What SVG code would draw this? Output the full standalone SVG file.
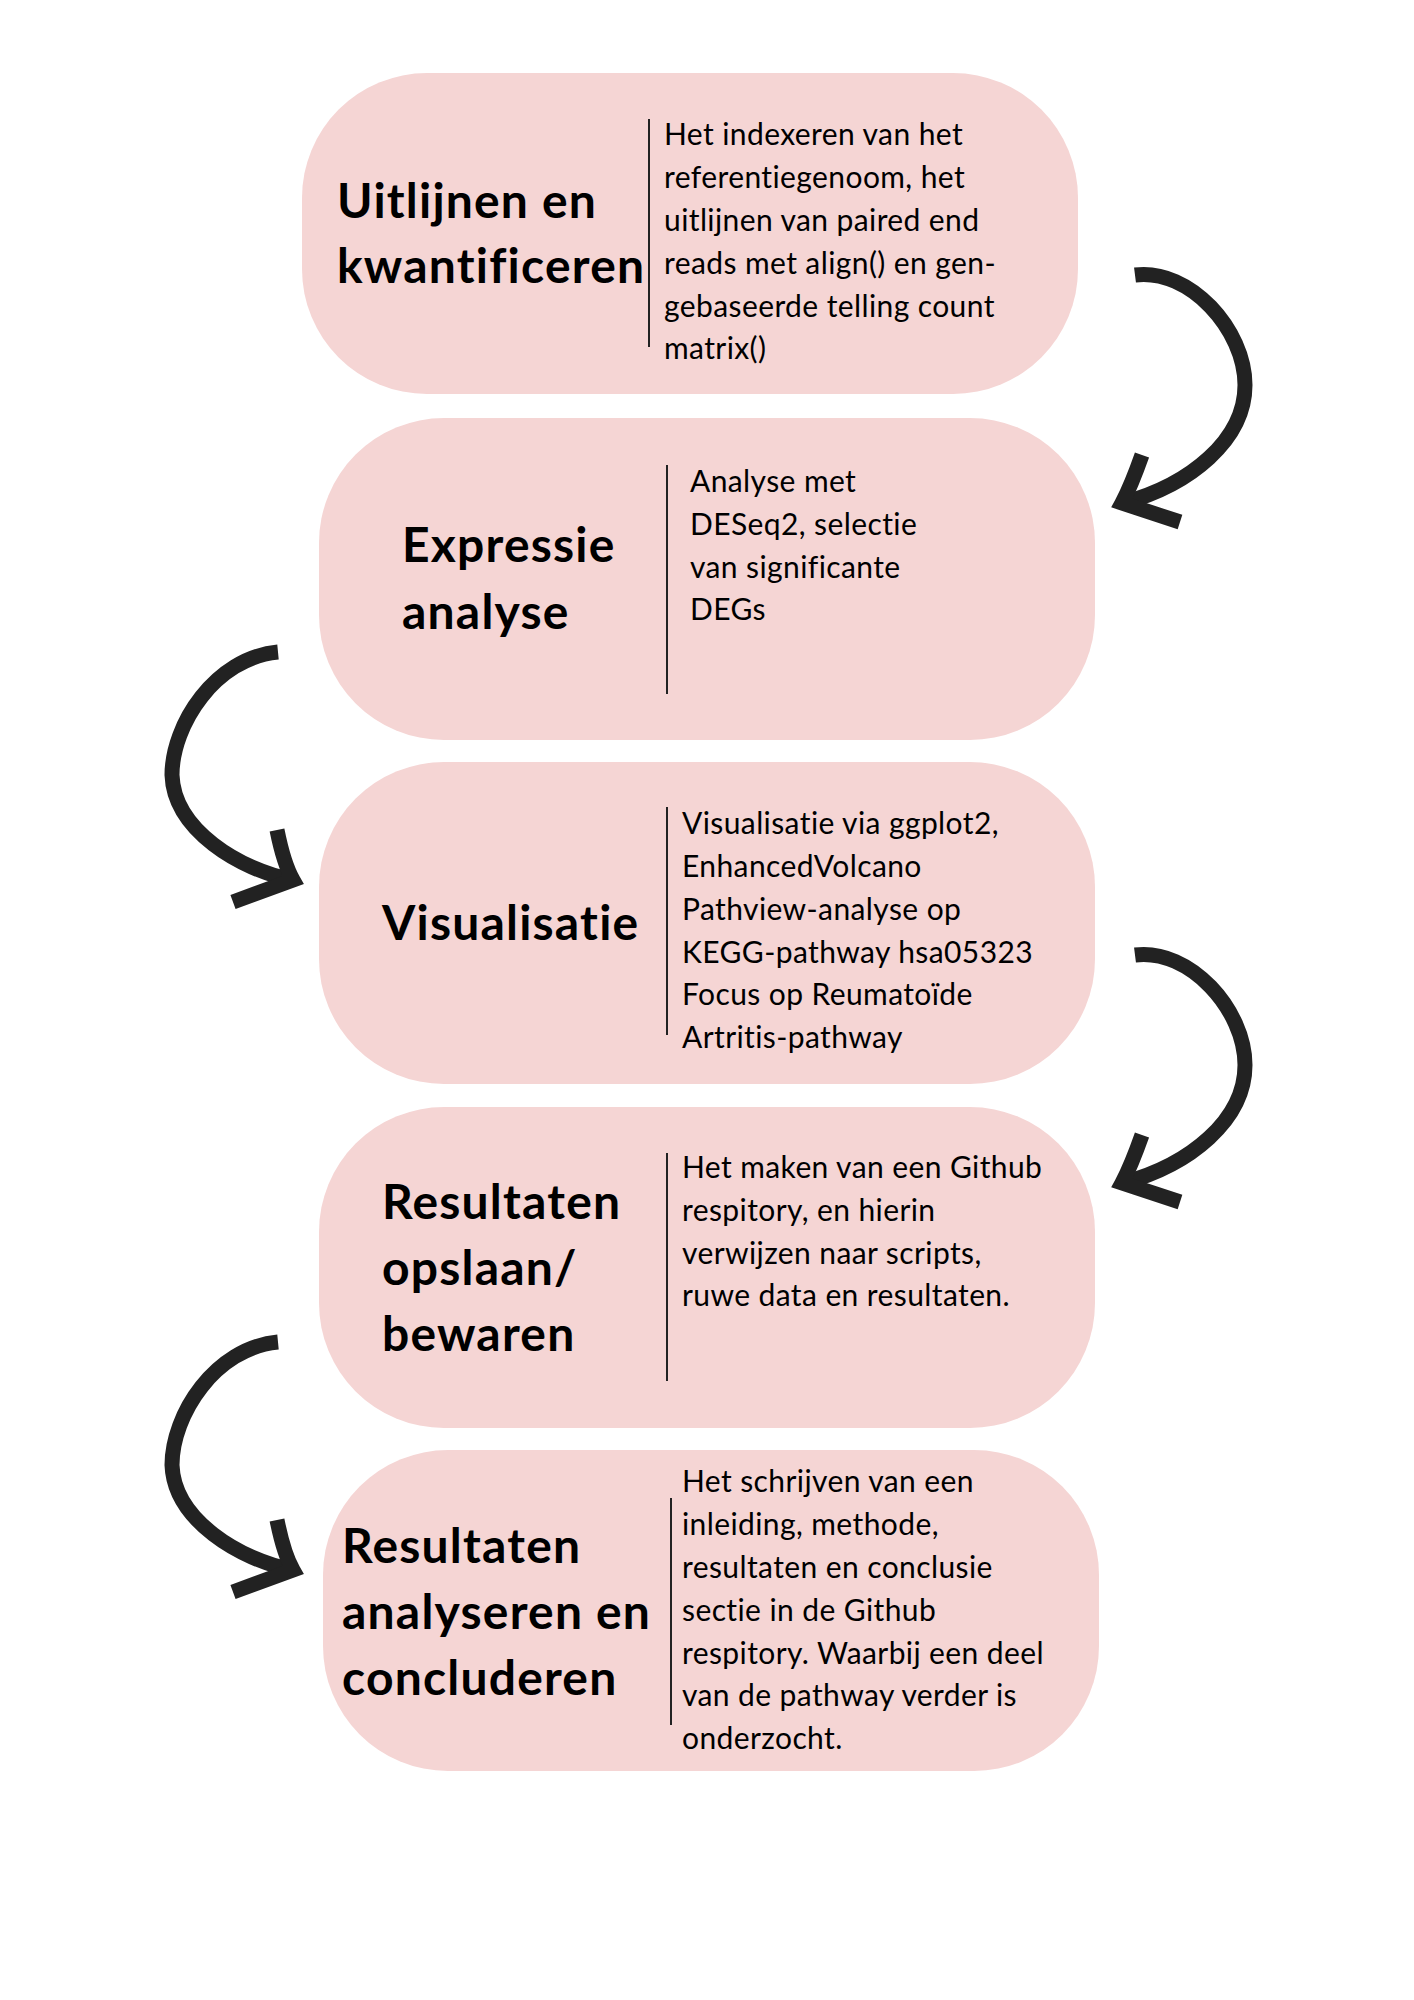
<svg xmlns="http://www.w3.org/2000/svg" width="1414" height="2000" viewBox="0 0 1414 2000">
<style>
.box{fill:#F5D5D4;}
.div{stroke:#222;stroke-width:2;}
.title{font-family:"Lato","Liberation Sans",sans-serif;font-weight:700;font-size:48px;letter-spacing:1.2px;fill:#000;}
.body{font-family:"Lato","Liberation Sans",sans-serif;font-weight:400;font-size:30px;letter-spacing:0.4px;fill:#000;}
.arr{fill:none;stroke:#222;stroke-width:15;stroke-linecap:butt;stroke-linejoin:miter;}
</style>
<defs>
<g id="arrowR">
<path class="arr" d="M1135,275 C1190,268 1245,330 1245,385 C1245,440 1190,485 1123,503"/>
<path class="arr" d="M1142,455 C1136,472 1130,488 1122,503 L1180,522"/>
</g>
<g id="arrowL">
<path class="arr" d="M278,652 C215,658 172,725 172,775 C174,830 240,870 293,880"/>
<path class="arr" d="M277,830 C281,850 285,866 293,880 L233,902"/>
</g>
</defs>
<rect width="1414" height="2000" fill="#fff"/>

<g id="node1">
<rect class="box" x="302" y="73" width="776" height="321" rx="125" ry="125"/>
<line class="div" x1="649" y1="119" x2="649" y2="347"/>
<text class="title" x="337" y="218">Uitlijnen en</text>
<text class="title" x="337" y="283">kwantificeren</text>
<text class="body" x="664" y="145">Het indexeren van het</text>
<text class="body" x="664" y="188">referentiegenoom, het</text>
<text class="body" x="664" y="231">uitlijnen van paired end</text>
<text class="body" x="664" y="274">reads met align() en gen-</text>
<text class="body" x="664" y="317">gebaseerde telling count</text>
<text class="body" x="664" y="359">matrix()</text>
</g>

<g id="node2">
<rect class="box" x="319" y="418" width="776" height="322" rx="125" ry="125"/>
<line class="div" x1="667" y1="465" x2="667" y2="694"/>
<text class="title" x="402" y="562">Expressie</text>
<text class="title" x="402" y="629">analyse</text>
<text class="body" x="690" y="492">Analyse met</text>
<text class="body" x="690" y="535">DESeq2, selectie</text>
<text class="body" x="690" y="578">van significante</text>
<text class="body" x="690" y="620">DEGs</text>
</g>

<g id="node3">
<rect class="box" x="319" y="762" width="776" height="322" rx="125" ry="125"/>
<line class="div" x1="667" y1="807" x2="667" y2="1035"/>
<text class="title" x="382" y="940">Visualisatie</text>
<text class="body" x="682" y="834">Visualisatie via ggplot2,</text>
<text class="body" x="682" y="877">EnhancedVolcano</text>
<text class="body" x="682" y="920">Pathview-analyse op</text>
<text class="body" x="682" y="963">KEGG-pathway hsa05323</text>
<text class="body" x="682" y="1005">Focus op Reumatoïde</text>
<text class="body" x="682" y="1048">Artritis-pathway</text>
</g>

<g id="node4">
<rect class="box" x="319" y="1107" width="776" height="321" rx="125" ry="125"/>
<line class="div" x1="667" y1="1153" x2="667" y2="1381"/>
<text class="title" x="382" y="1219">Resultaten</text>
<text class="title" x="382" y="1285">opslaan/</text>
<text class="title" x="382" y="1351">bewaren</text>
<text class="body" x="682" y="1178">Het maken van een Github</text>
<text class="body" x="682" y="1221">respitory, en hierin</text>
<text class="body" x="682" y="1264">verwijzen naar scripts,</text>
<text class="body" x="682" y="1306">ruwe data en resultaten.</text>
</g>

<g id="node5">
<rect class="box" x="323" y="1450" width="776" height="321" rx="125" ry="125"/>
<line class="div" x1="671" y1="1498" x2="671" y2="1725"/>
<text class="title" x="342" y="1563">Resultaten</text>
<text class="title" x="342" y="1629">analyseren en</text>
<text class="title" x="342" y="1695">concluderen</text>
<text class="body" x="682" y="1492">Het schrijven van een</text>
<text class="body" x="682" y="1535">inleiding, methode,</text>
<text class="body" x="682" y="1578">resultaten en conclusie</text>
<text class="body" x="682" y="1621">sectie in de Github</text>
<text class="body" x="682" y="1664">respitory. Waarbij een deel</text>
<text class="body" x="682" y="1706">van de pathway verder is</text>
<text class="body" x="682" y="1749">onderzocht.</text>
</g>

<g id="connectors">
<use href="#arrowR"/>
<use href="#arrowL"/>
<use href="#arrowR" transform="translate(0,680)"/>
<use href="#arrowL" transform="translate(0,690)"/>
</g>
</svg>
